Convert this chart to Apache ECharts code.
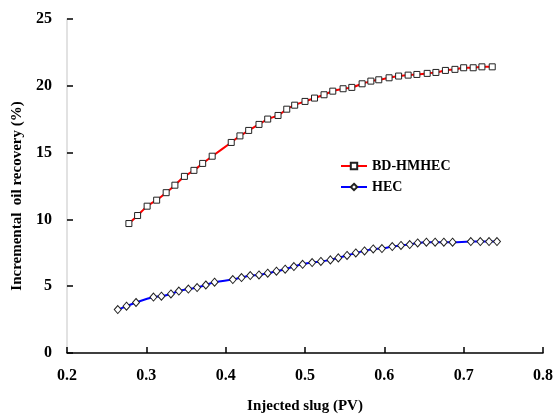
<!DOCTYPE html>
<html>
<head>
<meta charset="utf-8">
<script src="https://cdn.jsdelivr.net/npm/echarts@6/dist/echarts.min.js"></script>
<style>
  html, body { margin: 0; padding: 0; background: #fff; }
  #chart { width: 554px; height: 414px; }
</style>
</head>
<body>
<div id="chart"></div>
<script>
// BD-HMHEC series (injected slug PV, incremental oil recovery %)
const hmhecX = [0.278, 0.289, 0.301, 0.313, 0.325, 0.336, 0.348, 0.360, 0.371, 0.383,
  0.407, 0.418, 0.429, 0.442, 0.453, 0.466, 0.477, 0.487, 0.500, 0.512,
  0.524, 0.535, 0.548, 0.559, 0.572, 0.583, 0.593, 0.606, 0.618, 0.630,
  0.641, 0.654, 0.665, 0.677, 0.689, 0.700, 0.712, 0.723, 0.736]
const hmhecY = [9.69, 10.29, 10.99, 11.44, 12.0, 12.56, 13.22, 13.67, 14.19, 14.73,
  15.76, 16.25, 16.66, 17.11, 17.51, 17.78, 18.25, 18.55, 18.83, 19.08,
  19.33, 19.60, 19.78, 19.88, 20.15, 20.35, 20.45, 20.60, 20.73, 20.80,
  20.85, 20.93, 21.00, 21.15, 21.23, 21.35, 21.35, 21.42, 21.42]

// HEC series
const hecX = [0.264, 0.275, 0.287, 0.309, 0.319, 0.331, 0.341, 0.353, 0.364, 0.375,
  0.386, 0.409, 0.420, 0.431, 0.442, 0.453, 0.464, 0.475, 0.486, 0.497,
  0.509, 0.520, 0.532, 0.542, 0.553, 0.564, 0.575, 0.586, 0.597, 0.610,
  0.621, 0.632, 0.642, 0.653, 0.664, 0.675, 0.686, 0.709, 0.721, 0.732, 0.742]
const hecY = [3.25, 3.50, 3.78, 4.19, 4.25, 4.42, 4.64, 4.79, 4.90, 5.09,
  5.30, 5.50, 5.65, 5.80, 5.84, 5.97, 6.12, 6.27, 6.47, 6.64,
  6.77, 6.85, 6.97, 7.12, 7.30, 7.49, 7.64, 7.79, 7.82, 7.97,
  8.05, 8.12, 8.24, 8.29, 8.29, 8.29, 8.29, 8.34, 8.34, 8.34, 8.34]

const seriesNames = ['BD-HMHEC', 'HEC']

const chart = echarts.init(document.getElementById('chart'))
const font = '"Liberation Serif", "Times New Roman", serif'

const zip = (xs, ys) => xs.map((x, i) => [x, ys[i]])

chart.setOption({
  backgroundColor: '#fff',
  animation: false,
  textStyle: { fontFamily: font },
  grid: {
    left: 67,
    right: 11,
    top: 19,
    bottom: 61,
    outerBoundsMode: 'none'
  },
  legend: {
    orient: 'vertical',
    left: 340,
    top: 159,
    padding: 0,
    itemWidth: 26,
    itemHeight: 8,
    itemGap: 7,
    data: seriesNames,
    textStyle: {
      fontFamily: font,
      fontWeight: 'bold',
      fontSize: 14,
      color: '#000'
    }
  },
  xAxis: {
    type: 'value',
    min: 0.2,
    max: 0.8,
    interval: 0.1,
    name: 'Injected slug (PV)',
    nameLocation: 'middle',
    nameGap: 46,
    nameTextStyle: { fontFamily: font, fontWeight: 'bold', fontSize: 15, color: '#000' },
    axisLine: { lineStyle: { color: '#000', width: 1.5 } },
    axisTick: { inside: true, length: 6, lineStyle: { color: '#000', width: 1.5 } },
    axisLabel: {
      margin: 15,
      fontFamily: font,
      fontWeight: 'bold',
      fontSize: 16,
      color: '#000',
      formatter: v => v.toFixed(1)
    },
    splitLine: { show: false }
  },
  yAxis: {
    type: 'value',
    min: 0,
    max: 25,
    interval: 5,
    name: 'Incremental  oil recovery (%)',
    nameLocation: 'middle',
    nameGap: 41,
    nameTextStyle: {
      fontFamily: font, fontWeight: 'bold', fontSize: 15, color: '#000',
      padding: [0, 20, 0, 0]
    },
    axisLine: { show: true, lineStyle: { color: '#d9d9d9', width: 1.5 } },
    axisTick: { show: true, inside: true, length: 6, lineStyle: { color: '#000', width: 1.5 } },
    axisLabel: {
      margin: 15,
      fontFamily: font,
      fontWeight: 'bold',
      fontSize: 16,
      color: '#000'
    },
    splitLine: { show: false }
  },
  series: [
    {
      name: seriesNames[0],
      type: 'line',
      data: zip(hmhecX, hmhecY),
      smooth: 0.3,
      symbol: 'rect',
      symbolSize: 6,
      lineStyle: { color: '#ff0000', width: 2 },
      itemStyle: { color: '#fff', borderColor: '#222', borderWidth: 1 }
    },
    {
      name: seriesNames[1],
      type: 'line',
      data: zip(hecX, hecY),
      smooth: 0.4,
      symbol: 'diamond',
      symbolSize: [7, 8],
      lineStyle: { color: '#0000ff', width: 2 },
      itemStyle: { color: '#fff', borderColor: '#222', borderWidth: 1 }
    }
  ]
})
</script>
</body>
</html>
